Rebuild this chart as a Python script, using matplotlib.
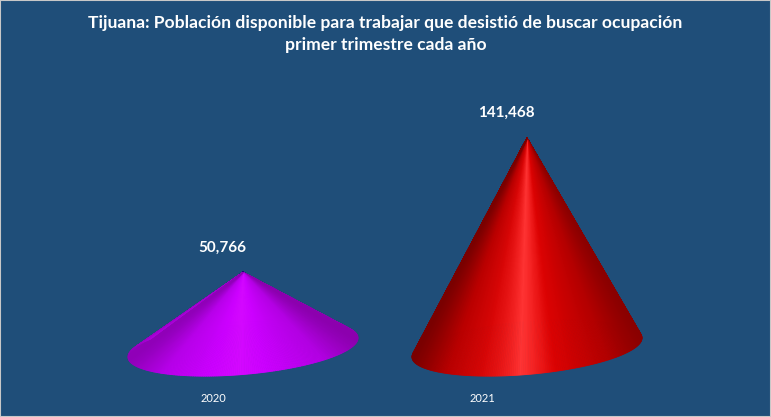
import numpy as np
import matplotlib
matplotlib.use("Agg")
import matplotlib.pyplot as plt
from matplotlib.collections import PolyCollection
from matplotlib.colors import LinearSegmentedColormap
from matplotlib.patches import Rectangle
import matplotlib.transforms as mtransforms

# ---- data ----
categories = ["2020", "2021"]
values = [50766, 141468]
value_labels = ["50,766", "141,468"]
title = "Tijuana: Población disponible para trabajar que desistió de buscar ocupación\nprimer trimestre cada año"

BG = "#1F4E79"
W, H = 771, 417
fig = plt.figure(figsize=(W / 100, H / 100), dpi=100)
fig.patch.set_facecolor(BG)
ax = fig.add_axes([0, 0, 1, 1])
ax.set_facecolor(BG)
ax.axis("off")

# axis scaling (pixel-like mapping)
px_per_x = 284.0
x0_px = 243.0
k = 0.00148           # px per value unit
base_px = 347.5
ax.set_xlim(-x0_px / px_per_x, (W - x0_px) / px_per_x)
ax.set_ylim(-(H - base_px) / k, base_px / k)

cmaps = [
    LinearSegmentedColormap.from_list("mag", [
        (0.0, "#9000B8"), (0.15, "#B800EA"), (0.35, "#CC00FF"),
        (0.48, "#D408FF"), (0.6, "#CC00FF"), (0.85, "#B400E4"), (1.0, "#8C00AE")]),
    LinearSegmentedColormap.from_list("red", [
        (0.0, "#7A0000"), (0.15, "#BA0000"), (0.3, "#D80606"),
        (0.38, "#E81616"), (0.43, "#F42424"), (0.47, "#FF3434"),
        (0.53, "#F42222"), (0.62, "#DC0202"), (0.85, "#B40000"), (1.0, "#8A0000")]),
]

Rx = 115 / px_per_x
Ry = 27 / k
Sy = 9.5 / k
n = 360
ts = np.linspace(0, 2 * np.pi, n + 1)

for i, (v, cmap) in enumerate(zip(values, cmaps)):
    xc = float(i)
    bx = xc + Rx * np.cos(ts)
    by = -Ry * np.sin(ts) + Sy * np.cos(ts)
    apex = (xc, v)
    tris_back, cols_back, tris_front, cols_front = [], [], [], []
    for j in range(n):
        tm = 0.5 * (ts[j] + ts[j + 1])
        tri = [apex, (bx[j], by[j]), (bx[j + 1], by[j + 1])]
        c = cmap((np.cos(tm) + 1) / 2)
        if np.sin(tm) < 0:
            tris_back.append(tri); cols_back.append(c)
        else:
            tris_front.append(tri); cols_front.append(c)
    for tris, cols in ((tris_back, cols_back), (tris_front, cols_front)):
        pc = PolyCollection(tris, facecolors=cols, edgecolors=cols, linewidths=0.6)
        ax.add_collection(pc)
    ax.annotate(value_labels[i], (xc, v), xytext=(-21, 25), textcoords="offset pixels",
                ha="center", va="center", color="white", fontsize=11,
                fontweight="bold", family="Lato")
    off = mtransforms.ScaledTranslation((-30 - 15 * i) / 100, 0, fig.dpi_scale_trans)
    ax.text(xc, -(398 - base_px) / k, categories[i], transform=ax.transData + off,
            ha="center", va="center", color="white", fontsize=8, family="Lato")

fig.text(0.5, 1 - 34 / H, title, ha="center", va="center", color="white",
         fontsize=12.6, fontweight="bold", family="Lato", linespacing=1.4)

fig.patches.append(Rectangle((0, 0), 1, 1, transform=fig.transFigure, fill=False,
                             edgecolor="#C8C8C8", linewidth=1.5))

fig.savefig("out.png", dpi=100, facecolor=BG)
